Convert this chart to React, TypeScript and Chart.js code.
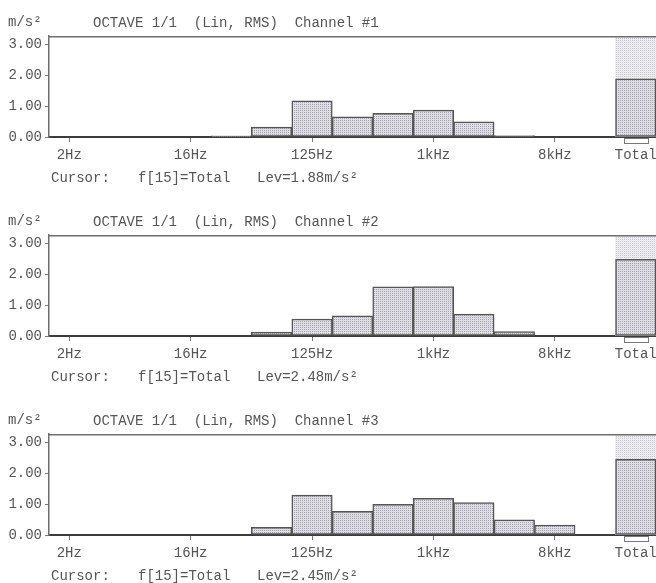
import React, { useEffect, useRef } from 'react';
import { Chart, registerables } from 'chart.js';

Chart.register(...registerables);

const categories = ['2Hz', '4Hz', '8Hz', '16Hz', '31.5Hz', '63Hz', '125Hz', '250Hz', '500Hz', '1kHz', '2kHz', '4kHz', '8kHz', '16kHz', 'Total'];
const shownTicks = ['2Hz', '16Hz', '125Hz', '1kHz', '8kHz', 'Total'];
const yTicks = [0, 1, 2, 3];
const yMax = 3.27;
const cursorIndex = 14;

const channel1 = [0, 0, 0, 0, 0.04, 0.32, 1.17, 0.65, 0.77, 0.87, 0.49, 0.05, 0, 0, 1.88];
const channel2 = [0, 0, 0, 0, 0, 0.13, 0.55, 0.65, 1.59, 1.6, 0.71, 0.14, 0, 0, 2.48];
const channel3 = [0, 0, 0, 0, 0, 0.25, 1.29, 0.77, 0.99, 1.19, 1.05, 0.49, 0.32, 0, 2.45];

const channelValues = [channel1, channel2, channel3];
const channelTitles = ['OCTAVE 1/1  (Lin, RMS)  Channel #1', 'OCTAVE 1/1  (Lin, RMS)  Channel #2', 'OCTAVE 1/1  (Lin, RMS)  Channel #3'];
const cursorLevels = ['Lev=1.88m/s²', 'Lev=2.48m/s²', 'Lev=2.45m/s²'];
const unitLabel = 'm/s²';
const cursorLabel = 'Cursor:';
const cursorFreq = 'f[15]=Total';

const FONT = '"Liberation Mono", "DejaVu Sans Mono", monospace';
const TEXT = '#555';
const PANEL_H = 199;

function makePattern(base: string, dot: string) {
  const c = document.createElement('canvas');
  c.width = 2;
  c.height = 2;
  const g = c.getContext('2d')!;
  g.fillStyle = base;
  g.fillRect(0, 0, 2, 2);
  g.fillStyle = dot;
  g.fillRect(0, 0, 1, 1);
  return g.createPattern(c, 'repeat');
}

function OctaveChart({ values }: { values: number[] }) {
  const ref = useRef<HTMLCanvasElement>(null);
  useEffect(() => {
    const barFill = makePattern('#dedee4', '#a4a4ae');
    const hiFill = makePattern('#ededf1', '#c6c6ce');
    const highlight = categories.map((_, i) => (i === cursorIndex ? yMax : null));
    const framePlugin = {
      id: 'frame',
      afterDraw(chart: any) {
        const { ctx, chartArea, scales } = chart;
        ctx.save();
        ctx.strokeStyle = '#6e6e6e';
        ctx.lineWidth = 1.5;
        ctx.beginPath();
        ctx.moveTo(chartArea.left, chartArea.top + 0.75);
        ctx.lineTo(chartArea.right, chartArea.top + 0.75);
        ctx.stroke();
        const x = scales.x.getPixelForValue(cursorIndex);
        const w = scales.x.getPixelForValue(1) - scales.x.getPixelForValue(0);
        ctx.lineWidth = 1;
        ctx.strokeStyle = '#777';
        ctx.strokeRect(Math.round(x - w * 0.3) + 0.5, chartArea.bottom + 1.5, Math.round(w * 0.6), 5);
        ctx.restore();
      },
    };
    const chart = new Chart(ref.current!, {
      type: 'bar',
      data: {
        labels: categories,
        datasets: [
          {
            data: values,
            backgroundColor: barFill as any,
            borderColor: '#555',
            borderWidth: 1.5,
            borderSkipped: false,
            order: 1,
            barPercentage: 1,
            categoryPercentage: 1,
            grouped: false,
          } as any,
          {
            data: highlight,
            backgroundColor: hiFill as any,
            borderWidth: 0,
            order: 2,
            barPercentage: 1,
            categoryPercentage: 1,
            grouped: false,
          } as any,
        ],
      },
      options: {
        animation: false,
        responsive: false,
        events: [],
        layout: { padding: { top: 36, left: 0, right: 0, bottom: 0 } },
        plugins: { legend: { display: false }, tooltip: { enabled: false } },
        scales: {
          x: {
            offset: true,
            border: { display: true, color: '#3c3c3c', width: 2 },
            grid: {
              offset: false,
              drawOnChartArea: false,
              drawTicks: true,
              tickLength: 5,
              color: (ctx: any) =>
                shownTicks.includes(categories[ctx.index]) && ctx.index !== cursorIndex ? '#777' : 'rgba(0,0,0,0)',
            },
            ticks: {
              autoSkip: false,
              maxRotation: 0,
              minRotation: 0,
              padding: 5,
              color: TEXT,
              font: { family: FONT, size: 14 },
              callback: (_v: any, i: number) => (shownTicks.includes(categories[i]) ? categories[i] : ''),
            },
            afterFit: (s: any) => {
              s.height = 62;
              s.paddingLeft = 0;
              s.paddingRight = 0;
            },
          },
          y: {
            min: 0,
            max: yMax,
            border: { display: true, color: '#6e6e6e', width: 1.5 },
            grid: { drawOnChartArea: false, drawTicks: true, tickLength: 4, color: '#777' },
            ticks: {
              padding: 3,
              color: TEXT,
              font: { family: FONT, size: 14 },
              callback: (v: any) => Number(v).toFixed(2),
            },
            afterBuildTicks: (s: any) => {
              s.ticks = yTicks.map((v) => ({ value: v }));
            },
            afterFit: (s: any) => {
              s.width = 49;
              s.paddingTop = 0;
              s.paddingBottom = 0;
            },
          },
        },
      } as any,
      plugins: [framePlugin],
    });
    return () => chart.destroy();
  }, [values]);
  return <canvas ref={ref} width={656} height={PANEL_H} style={{ display: 'block', position: 'absolute', left: 0, top: 0 }} />;
}

const textStyle: React.CSSProperties = {
  position: 'absolute',
  fontFamily: FONT,
  fontSize: 14,
  lineHeight: '14px',
  color: TEXT,
  whiteSpace: 'pre',
};

export default function App() {
  return (
    <div style={{ position: 'fixed', left: 0, top: 0, width: 656, height: 583, overflow: 'hidden', background: '#fff' }}>
      {channelValues.map((vals, i) => (
        <div key={i} style={{ position: 'absolute', left: 0, top: i * PANEL_H, width: 656, height: PANEL_H }}>
          <OctaveChart values={vals} />
          <span style={{ ...textStyle, left: 8, top: 15 }}>{unitLabel}</span>
          <span style={{ ...textStyle, left: 93, top: 16 }}>{channelTitles[i]}</span>
          <span style={{ ...textStyle, left: 51, top: 171 }}>{cursorLabel}</span>
          <span style={{ ...textStyle, left: 138, top: 171 }}>{cursorFreq}</span>
          <span style={{ ...textStyle, left: 257, top: 171 }}>{cursorLevels[i]}</span>
        </div>
      ))}
    </div>
  );
}
